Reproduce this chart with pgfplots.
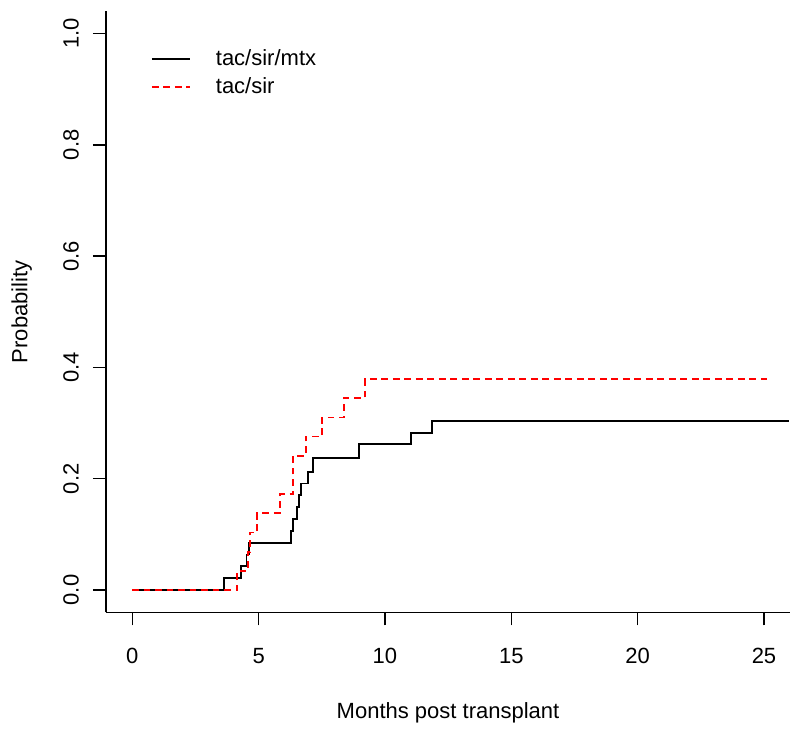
\documentclass[border=0pt]{standalone}
\usepackage{fontspec}
\setmainfont{Liberation Sans}
\usepackage{pgfplots}
\pgfplotsset{compat=1.18}
\begin{document}
\fontsize{22}{26}\selectfont
\begin{tikzpicture}
\path[use as bounding box] (-106pt,-115.7pt) rectangle (693pt,612.3pt);
\begin{axis}[
  at={(0pt,0pt)}, anchor=south west,
  scale only axis, width=684pt, height=601pt,
  xmin=-1.04, xmax=26.03, ymin=-0.04, ymax=1.04,
  axis x line*=bottom, axis y line*=left,
  axis line style={line width=1.5pt, -},
  tick style={line width=1.5pt, black},
  tick align=outside, major tick length=13pt,
  xtick={0,5,10,15,20,25}, xticklabels={0,5,10,15,20,25},
  ytick={0,0.2,0.4,0.6,0.8,1.0}, yticklabels={0.0,0.2,0.4,0.6,0.8,1.0},
  xticklabel style={anchor=north, inner sep=0pt},
  xticklabel shift=23pt,
  yticklabel style={rotate=90, anchor=south, inner sep=0pt},
  yticklabel shift=14pt,
  xlabel={Months post transplant},
  ylabel={Probability},
  xlabel style={at={(axis description cs:0.5,0)}, anchor=base, yshift=-106pt, inner sep=0pt},
  ylabel style={at={(axis description cs:0,0.5)}, anchor=base, rotate=0, inner sep=0pt, yshift=78.5pt},
  legend style={draw=none, fill=none, at={([xshift=44.7pt,yshift=-38pt]axis description cs:0,1)}, anchor=north west, inner sep=0pt, row sep=9pt, nodes={inner sep=0pt},
    /tikz/every odd column/.append style={column sep=24.5pt}},
  legend cell align=left,
  legend image code/.code={\draw[#1] (0pt,0pt) -- (38.6pt,0pt);},
]
\addplot[const plot, black, line width=1.9pt] coordinates {
  (0,0) (3.64,0.0213) (4.32,0.0426) (4.52,0.0638) (4.63,0.0851)
  (6.28,0.1064) (6.37,0.1277) (6.51,0.149) (6.60,0.1702) (6.68,0.1915)
  (6.94,0.2128) (7.16,0.238) (8.97,0.262) (11.03,0.283) (11.85,0.304) (26,0.304)
};
\addlegendentry{tac/sir/mtx}
\addplot[const plot, red, line width=1.9pt, dash pattern=on 6.7pt off 4.8pt] coordinates {
  (0,0) (4.16,0.0345) (4.57,0.069) (4.66,0.1034) (4.95,0.138) (5.84,0.172)
  (6.35,0.241) (6.86,0.276) (7.52,0.31) (8.38,0.345) (9.21,0.379) (25.1,0.379)
};
\addlegendentry{tac/sir}
\end{axis}
\end{tikzpicture}
\end{document}
